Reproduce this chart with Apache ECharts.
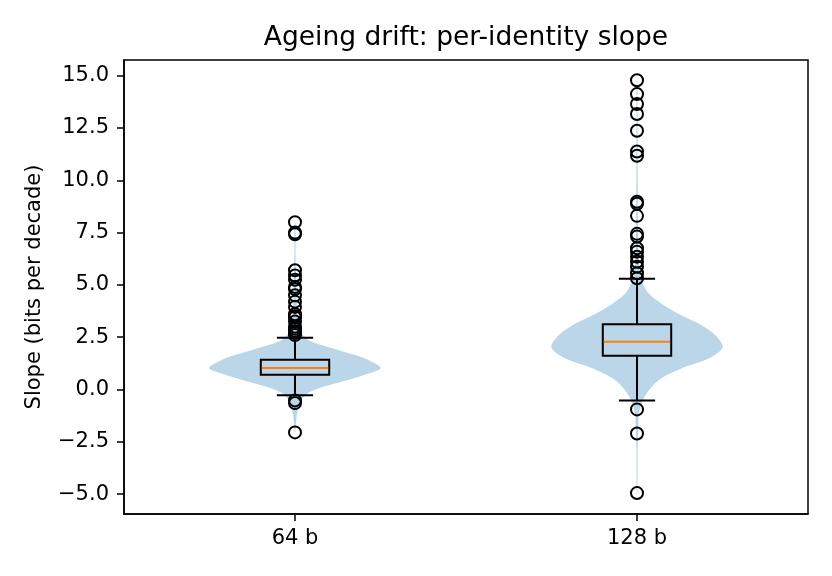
<!DOCTYPE html>
<html>
<head>
<meta charset="utf-8">
<script src="https://cdn.jsdelivr.net/npm/echarts@6/dist/echarts.min.js"></script>
<style>html,body{margin:0;padding:0;background:#fff}#c{width:832px;height:576px}</style>
</head>
<body>
<div id="c"></div>
<script>
// ---- data ----
const categories = ['64 b', '128 b'];
// box statistics: [lower whisker, Q1, median, Q3, upper whisker]
const box64 = [-0.28, 0.71, 1.03, 1.42, 2.47];
const box128 = [-0.53, 1.61, 2.28, 3.12, 5.29];
// outliers
const out64 = [8.0, 7.5, 7.42, 5.7, 5.45, 5.25, 4.9, 4.8, 4.5, 4.2, 3.95, 3.6, 3.5, 3.45, 3.25, 3.0, 2.9, 2.8, 2.7, 2.6, -0.52, -0.65, -2.05];
const out128 = [14.78, 14.12, 13.65, 13.17, 12.37, 11.38, 11.17, 8.98, 8.88, 8.3, 7.44, 7.31, 6.75, 6.59, 6.35, 6.11, 5.87, 5.56, 5.32, -0.95, -2.1, -4.95];
// violin profiles: [value, relative density (1 = widest)]
const violin64 = [[-2.05,0],[-1.6,0.01],[-1.2,0.02],[-0.8,0.04],[-0.5,0.07],[-0.3,0.11],[-0.1,0.18],[0.14,0.33],[0.46,0.61],[0.8,0.88],[1.02,1.0],[1.18,0.96],[1.51,0.8],[1.81,0.56],[2.1,0.32],[2.37,0.15],[2.7,0.07],[3.0,0.04],[3.5,0.025],[4.0,0.02],[4.5,0.015],[5.0,0.012],[5.5,0.01],[6.0,0.005],[6.5,0.003],[7.0,0.003],[7.5,0.004],[8.0,0]];
const violin128 = [[-4.95,0],[-4,0.003],[-3,0.004],[-2,0.01],[-1.2,0.02],[-0.8,0.04],[-0.39,0.08],[0.09,0.16],[0.56,0.29],[1.04,0.53],[1.52,0.85],[2.03,1.0],[2.64,0.9],[3.12,0.73],[3.6,0.49],[4.08,0.29],[4.56,0.14],[5.19,0.05],[5.8,0.025],[6.5,0.015],[7.5,0.01],[9,0.006],[11,0.004],[13,0.003],[14.78,0]];
const yTicks = [-5, -2.5, 0, 2.5, 5, 7.5, 10, 12.5, 15];

const FONT = 'DejaVu Sans';
const violins = [violin64, violin128];
const boxes = [box64, box128];
const outliers = [out64, out128];

const chart = echarts.init(document.getElementById('c'), null, {renderer: 'canvas'});

function fmt(v) {
  return (v < 0 ? '\u2212' : '') + Math.abs(v).toFixed(1);
}

const violinSeries = {
  type: 'custom',
  silent: true,
  data: violins.map((p, i) => [i, p[0][0], p[p.length - 1][0]]),
  encode: {x: 0, y: [1, 2]},
  renderItem: function (params, api) {
    const idx = api.value(0);
    const prof = violins[idx];
    const band = api.size([1, 0])[0];
    const maxHalf = band * 0.25;
    const cx = api.coord([idx, 0])[0];
    const right = [], left = [];
    prof.forEach(function (p) {
      const y = api.coord([idx, p[0]])[1];
      right.push([cx + p[1] * maxHalf, y]);
      left.push([cx - p[1] * maxHalf, y]);
    });
    const pts = right.concat(left.reverse());
    return {
      type: 'polygon',
      shape: {points: pts, smooth: 0.3},
      style: {fill: 'rgba(31,119,180,0.3)', stroke: 'rgba(31,119,180,0.12)', lineWidth: 0.8}
    };
  },
  z: 1
};

const boxSeries = {
  type: 'custom',
  silent: true,
  data: boxes.map((b, i) => [i].concat(b)),
  encode: {x: 0, y: [1, 2, 3, 4, 5]},
  renderItem: function (params, api) {
    const idx = api.value(0);
    const band = api.size([1, 0])[0];
    const hw = band * 0.1;
    const cw = band * 0.053;
    const cx = api.coord([idx, 0])[0];
    const yl = api.coord([idx, api.value(1)])[1];
    const y1 = api.coord([idx, api.value(2)])[1];
    const ym = api.coord([idx, api.value(3)])[1];
    const y3 = api.coord([idx, api.value(4)])[1];
    const yh = api.coord([idx, api.value(5)])[1];
    const ls = {stroke: '#000', lineWidth: 2};
    return {
      type: 'group',
      children: [
        {type: 'line', shape: {x1: cx, y1: y1, x2: cx, y2: yl}, style: ls},
        {type: 'line', shape: {x1: cx, y1: y3, x2: cx, y2: yh}, style: ls},
        {type: 'line', shape: {x1: cx - cw, y1: yl, x2: cx + cw, y2: yl}, style: ls},
        {type: 'line', shape: {x1: cx - cw, y1: yh, x2: cx + cw, y2: yh}, style: ls},
        {type: 'rect', shape: {x: cx - hw, y: y3, width: 2 * hw, height: y1 - y3}, style: {fill: 'none', stroke: '#000', lineWidth: 2}},
        {type: 'line', shape: {x1: cx - hw + 1, y1: ym, x2: cx + hw - 1, y2: ym}, style: {stroke: '#ff7f0e', lineWidth: 2}}
      ]
    };
  },
  z: 2
};

const outlierSeries = {
  type: 'scatter',
  silent: true,
  symbol: 'circle',
  symbolSize: 12,
  itemStyle: {color: 'rgba(0,0,0,0)', borderColor: '#000', borderWidth: 2, opacity: 1},
  data: outliers.flatMap((arr, i) => arr.map(v => [i, v])),
  z: 3
};

chart.setOption({
  animation: false,
  backgroundColor: '#fff',
  graphic: [{
    type: 'text',
    x: 466,
    y: 38,
    style: {
      text: 'Ageing drift: per-identity slope',
      fontFamily: FONT, fontSize: 26.5, fill: '#000',
      align: 'center', verticalAlign: 'middle'
    }
  }],
  grid: {left: 124, right: 24, top: 60, bottom: 62, show: true, borderColor: '#000', borderWidth: 1.5, backgroundColor: 'transparent'},
  xAxis: {
    type: 'category',
    data: categories,
    boundaryGap: true,
    axisLine: {show: true, onZero: false, lineStyle: {color: '#000', width: 1.5}},
    axisTick: {show: true, alignWithLabel: true, length: 7, lineStyle: {color: '#000', width: 1.5}},
    axisLabel: {fontFamily: FONT, fontSize: 21, color: '#000', margin: 14},
    splitLine: {show: false}
  },
  yAxis: {
    type: 'value',
    min: -5.95,
    max: 15.75,
    name: 'Slope (bits per decade)',
    nameLocation: 'middle',
    nameGap: 79,
    nameTextStyle: {fontFamily: FONT, fontSize: 21, color: '#000'},
    axisLine: {show: true, onZero: false, lineStyle: {color: '#000', width: 1.5}},
    axisTick: {show: true, length: 7, lineStyle: {color: '#000', width: 1.5}, customValues: yTicks},
    axisLabel: {fontFamily: FONT, fontSize: 21, color: '#000', margin: 15, customValues: yTicks, formatter: fmt},
    splitLine: {show: false}
  },
  series: [violinSeries, boxSeries, outlierSeries]
});
</script>
</body>
</html>
